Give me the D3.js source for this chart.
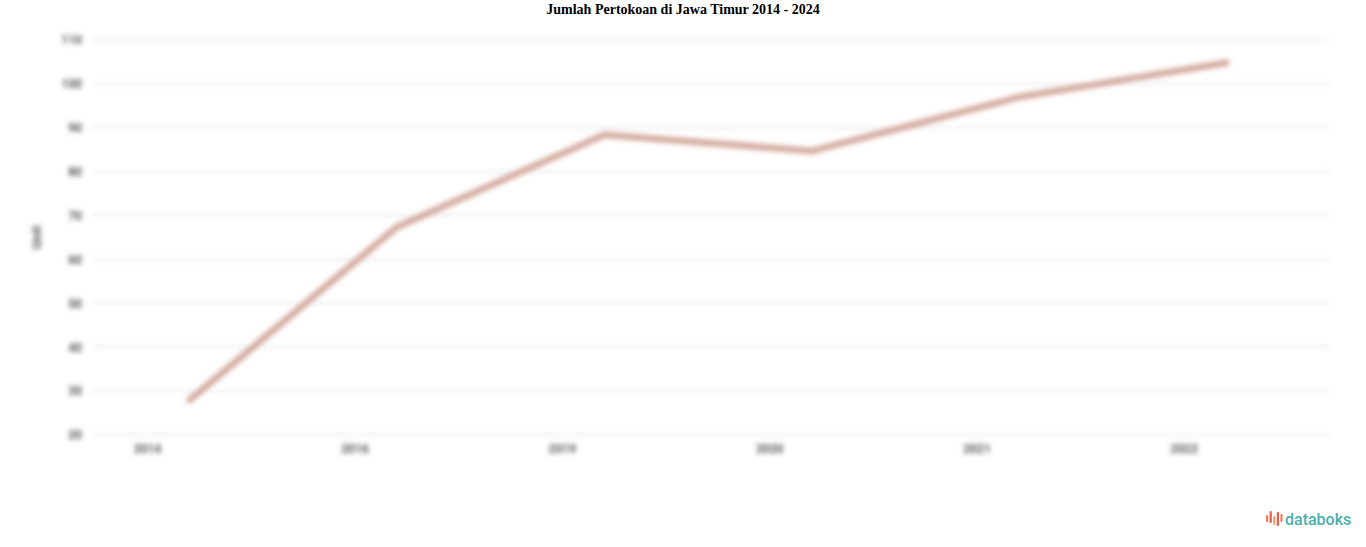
<!DOCTYPE html>
<html>
<head>
<meta charset="utf-8">
<script src="https://cdn.jsdelivr.net/npm/d3@7"></script>
<style>
  html, body { margin: 0; padding: 0; background: #fff; }
  svg { display: block; }
</style>
</head>
<body>
<svg id="chart" width="1366" height="547"></svg>
<script>
const categories = ["2014", "2016", "2019", "2020", "2021", "2022"];
const values = [28.0, 67.4, 88.4, 84.7, 97.0, 104.8];
const yTicks = [20, 30, 40, 50, 60, 70, 80, 90, 100, 110];
const titleText = "Jumlah Pertokoan di Jawa Timur 2014 - 2024";
const yTitle = "Unit";

const svg = d3.select("#chart");
const W = 1366, H = 547;
const m = { left: 86, right: 36, top: 40, bottom: 112 };

const defs = svg.append("defs");
defs.append("filter").attr("id", "blur").attr("x", "-5%").attr("y", "-5%").attr("width", "110%").attr("height", "110%")
  .append("feGaussianBlur").attr("stdDeviation", 2.8);

const x = d3.scaleBand().domain(categories).range([m.left, W - m.right]);
const y = d3.scaleLinear().domain([20, 110]).range([H - m.bottom, m.top]);

svg.append("text")
  .attr("x", W / 2).attr("y", 14)
  .attr("text-anchor", "middle")
  .attr("font-family", "Liberation Serif, Times New Roman, serif")
  .attr("font-weight", "bold").attr("font-size", 14)
  .attr("fill", "#000")
  .text(titleText);

const g = svg.append("g").attr("filter", "url(#blur)");

// gridlines
g.append("g").selectAll("line").data(yTicks).join("line")
  .attr("x1", 92).attr("x2", W - 36)
  .attr("y1", d => y(d)).attr("y2", d => y(d))
  .attr("stroke", "#e4e4e4").attr("stroke-width", 1.5);

// y axis
const yAxis = g.append("g").attr("transform", `translate(${m.left - 2},0)`)
  .call(d3.axisLeft(y).tickValues(yTicks).tickSize(0).tickPadding(2));
yAxis.select(".domain").remove();
yAxis.selectAll("text").attr("font-family", "Roboto, sans-serif").attr("font-size", 12)
  .attr("fill", "#555").attr("font-weight", "bold");

// x axis
const xAxis = g.append("g").attr("transform", `translate(-42,${H - m.bottom})`)
  .call(d3.axisBottom(x).tickSize(0).tickPadding(9));
xAxis.select(".domain").remove();
xAxis.selectAll("text").attr("font-family", "Roboto, sans-serif").attr("font-size", 12)
  .attr("fill", "#555").attr("font-weight", "bold");

// y title
g.append("text")
  .attr("transform", `translate(41,${(m.top + H - m.bottom) / 2}) rotate(-90)`)
  .attr("text-anchor", "middle")
  .attr("font-family", "Roboto, sans-serif").attr("font-size", 13)
  .attr("fill", "#555").attr("font-weight", "bold")
  .text(yTitle);

// line
const line = d3.line()
  .x((d, i) => x(categories[i]) + x.bandwidth() / 2)
  .y(d => y(d));
g.append("path").datum(values)
  .attr("d", line)
  .attr("fill", "none")
  .attr("stroke", "#d4a89c")
  .attr("stroke-width", 6.5)
  .attr("stroke-linejoin", "round")
  .attr("stroke-linecap", "round");

// logo
const logo = svg.append("g").attr("transform", "translate(1266,511)");
const barsH = [7, 12, 9, 14, 8];
const barsY = [4, 0, 5, 1, 3];
const barsC = ["#f47c5c", "#ef5a4c", "#f4a05c", "#ef5a4c", "#f47c5c"];
logo.selectAll("rect").data(barsH).join("rect")
  .attr("x", (d, i) => i * 3.6)
  .attr("y", (d, i) => barsY[i])
  .attr("width", 2.2)
  .attr("height", d => d)
  .attr("rx", 1)
  .attr("fill", (d, i) => barsC[i]);
logo.append("text")
  .attr("x", 19).attr("y", 14)
  .attr("font-family", "Roboto, Open Sans, sans-serif")
  .attr("font-size", 16).attr("font-weight", "500")
  .attr("fill", "#4bb0ae")
  .text("databoks");
</script>
</body>
</html>
